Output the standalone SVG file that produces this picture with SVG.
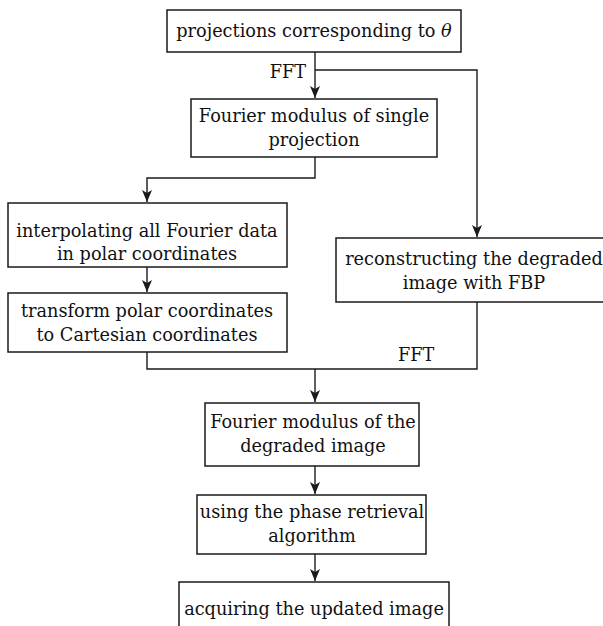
<svg xmlns="http://www.w3.org/2000/svg" width="603" height="626" viewBox="0 0 603 626">
<style>
  .box { fill: #fff; stroke: #1a1a1a; stroke-width: 1.5; }
  .t { font-family: "DejaVu Serif", "Liberation Serif", serif; font-size: 17.7px; fill: #111; text-anchor: middle; }
  .lbl { font-family: "DejaVu Serif", "Liberation Serif", serif; font-size: 17.7px; fill: #111; }
  .ln { fill: none; stroke: #1a1a1a; stroke-width: 1.4; }
</style>
<defs>
  <marker id="arr" markerUnits="userSpaceOnUse" markerWidth="12" markerHeight="10" refX="12" refY="5" orient="auto">
    <path d="M0,0 L12,5 L0,10 L3,5 z" fill="#1a1a1a"/>
  </marker>
</defs>
<rect width="603" height="626" fill="#fff"/>
<g id="connectors">
  <path class="ln" d="M315,52 V98" marker-end="url(#arr)"/>
  <path class="ln" d="M315,70 H477 V237" marker-end="url(#arr)"/>
  <path class="ln" d="M315,157 V178 H147 V202" marker-end="url(#arr)"/>
  <path class="ln" d="M147,267 V292" marker-end="url(#arr)"/>
  <path class="ln" d="M147,352 V369 H477 V302"/>
  <path class="ln" d="M315,369 V402" marker-end="url(#arr)"/>
  <path class="ln" d="M315,466 V494" marker-end="url(#arr)"/>
  <path class="ln" d="M315,554 V581" marker-end="url(#arr)"/>
  <text class="lbl" x="306" y="78" text-anchor="end">FFT</text>
  <text class="lbl" x="398" y="361">FFT</text>
</g>
<g id="n1">
  <rect class="box" x="167" y="10" width="294" height="42"/>
  <text class="t" x="314" y="37">projections corresponding to <tspan font-style="italic">θ</tspan></text>
</g>
<g id="n2">
  <rect class="box" x="191" y="99" width="246" height="58"/>
  <text class="t" x="314" y="122">Fourier modulus of single</text>
  <text class="t" x="314" y="146">projection</text>
</g>
<g id="n3">
  <rect class="box" x="8" y="203" width="279" height="64"/>
  <text class="t" x="147" y="237">interpolating all Fourier data</text>
  <text class="t" x="147" y="260">in polar coordinates</text>
</g>
<g id="n4">
  <rect class="box" x="8" y="293" width="279" height="59"/>
  <text class="t" x="147" y="317">transform polar coordinates</text>
  <text class="t" x="147" y="341">to Cartesian coordinates</text>
</g>
<g id="n5">
  <rect class="box" x="336" y="238" width="280" height="64"/>
  <text class="t" x="474" y="265">reconstructing the degraded</text>
  <text class="t" x="474" y="289">image with FBP</text>
</g>
<g id="n6">
  <rect class="box" x="205" y="403" width="214" height="63"/>
  <text class="t" x="313" y="428">Fourier modulus of the</text>
  <text class="t" x="313" y="452">degraded image</text>
</g>
<g id="n7">
  <rect class="box" x="197" y="495" width="229" height="59"/>
  <text class="t" x="312" y="518">using the phase retrieval</text>
  <text class="t" x="312" y="542">algorithm</text>
</g>
<g id="n8">
  <rect class="box" x="179" y="582" width="270" height="60"/>
  <text class="t" x="314" y="615">acquiring the updated image</text>
</g>
</svg>
